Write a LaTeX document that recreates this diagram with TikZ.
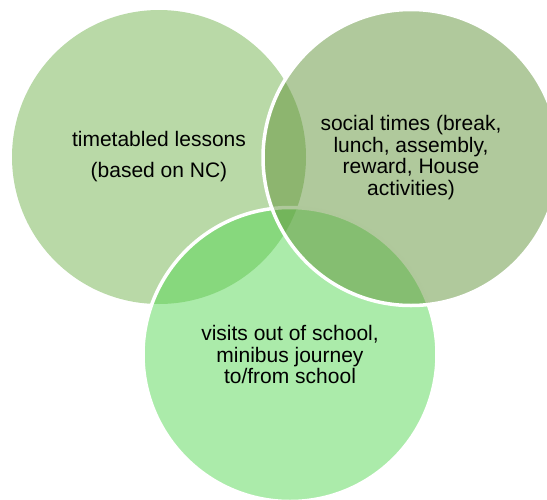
\documentclass[tikz,border=0pt]{standalone}
\usepackage{fontspec}
\setmainfont{Liberation Sans}
\definecolor{lessonsgreen}{RGB}{115,179,79}
\definecolor{socialgreen}{RGB}{97,147,57}
\definecolor{visitsgreen}{RGB}{87,215,85}

\begin{document}
\begin{tikzpicture}[x=1pt, y=-1pt,
        zone/.style={circle, minimum size=294pt, inner sep=0pt,
            fill opacity=0.5, text opacity=1, align=center,
            font=\fontsize{21}{21.5}\selectfont, line width=3.5pt}]
        \useasboundingbox (0,0) rectangle (547,499);
        \node[zone, fill=lessonsgreen] (lessons) at (159,157) {timetabled lessons\\[9.5pt](based on NC)};
        \node[zone, fill=visitsgreen, draw=white] (visits) at (290,354.5) {visits out of school,\\minibus journey\\to/from school};
        \node[zone, fill=socialgreen, draw=white, minimum size=296pt] (social) at (411,157.5) {social times (break,\\lunch, assembly,\\reward, House\\activities)};
    \end{tikzpicture}
\end{document}
